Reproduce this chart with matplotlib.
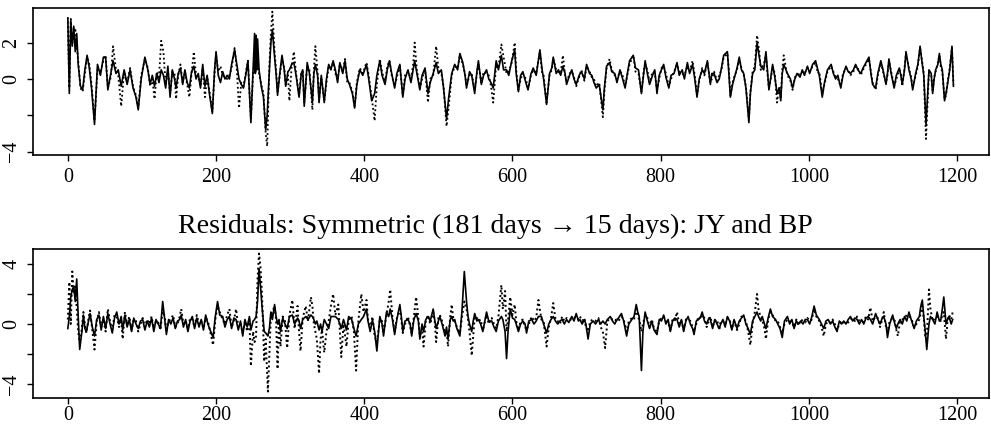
import matplotlib
matplotlib.use("Agg")
import matplotlib.pyplot as plt

plt.rcParams['font.family'] = ['Liberation Serif', 'DejaVu Serif']

# ---------------- top panel ----------------
top_day = [
    0, 2, 4, 6, 8, 10, 12, 14, 17, 20,
    23, 26, 29, 32, 36, 40, 44, 48, 51, 54,
    58, 61, 65, 68, 72, 76, 80, 84, 88, 92,
    95, 99, 104, 108, 111, 114, 117, 120, 123, 126,
    129, 132, 135, 138, 141, 144, 146, 149, 152, 155,
    158, 161, 164, 167, 170, 173, 176, 179, 182, 185,
    188, 191, 195, 198, 200, 203, 206, 209, 212, 215,
    218, 221, 225, 228, 231, 234, 237, 240, 243, 247,
    250, 252, 253, 254, 255, 256, 258, 261, 264, 267,
    269, 272, 274, 276, 279, 281, 283, 286, 289, 292,
    294, 297, 299, 302, 305, 308, 312, 315, 317, 319,
    323, 326, 330, 332, 334, 337, 339, 342, 346, 349,
    352, 355, 358, 361, 364, 367, 371, 374, 377, 380,
    384, 387, 390, 394, 398, 403, 406, 410, 414, 417,
    421, 424, 428, 431, 434, 437, 441, 444, 448, 452,
    455, 459, 463, 466, 468, 471, 475, 478, 482, 486,
    489, 493, 497, 500, 504, 507, 511, 514, 518, 522,
    526, 529, 533, 536, 538, 542, 545, 549, 552, 554,
    558, 561, 565, 568, 571, 574, 578, 581, 585, 588,
    592, 595, 599, 603, 605, 608, 611, 614, 618, 621,
    625, 628, 632, 637, 640, 642, 646, 650, 653, 655,
    659, 662, 665, 668, 671, 673, 677, 680, 683, 686,
    690, 693, 697, 700, 704, 707, 710, 713, 717, 722,
    724, 727, 731, 734, 738, 741, 745, 748, 752, 755,
    758, 763, 766, 770, 774, 777, 779, 782, 785, 789,
    792, 795, 798, 801, 804, 807, 811, 814, 818, 822,
    825, 829, 832, 836, 839, 843, 846, 849, 852, 856,
    859, 863, 867, 869, 872, 876, 879, 882, 885, 890,
    892, 894, 897, 899, 903, 906, 909, 912, 915, 919,
    921, 924, 927, 930, 933, 935, 939, 942, 944, 946,
    949, 951, 954, 957, 960, 962, 964, 966, 969, 971,
    975, 978, 981, 984, 988, 991, 994, 998, 1001, 1005,
    1009, 1012, 1014, 1018, 1021, 1025, 1030, 1033, 1036, 1039,
    1043, 1046, 1050, 1053, 1056, 1060, 1063, 1066, 1070, 1073,
    1077, 1081, 1084, 1086, 1090, 1093, 1097, 1100, 1104, 1106,
    1108, 1111, 1115, 1118, 1122, 1124, 1126, 1129, 1131, 1135,
    1138, 1140, 1144, 1147, 1150, 1153, 1155, 1158, 1160, 1162,
    1165, 1167, 1169, 1171, 1174, 1176, 1178, 1180, 1183, 1185,
    1187, 1190, 1193, 1195,
]
top_solid = [
    3.3, -0.8, 3.2, 1.8, 2.9, 1.5, 2.5, 0.8, -0.4, -0.6,
    0.5, 1.3, 0.6, -0.5, -2.5, 0.8, 0.2, 1.2, 1.2, -0.6,
    0.3, 1.0, 0.3, 0.5, -0.4, 0.5, -0.3, 0.5, -0.5, -1.0,
    -1.7, 0.0, 1.2, 0.5, -0.3, 0.2, -0.4, 0.3, -0.2, 0.5,
    0.2, -0.5, 0.7, -1.0, 0.5, 0.0, -0.5, 0.3, 0.6, -0.3,
    0.5, -0.2, -0.5, 0.4, 0.7, 0.0, 0.3, -0.5, 0.8, -0.4,
    0.2, -0.8, -1.9, 0.5, 1.5, 0.2, -0.2, 0.4, 0.0, 0.2,
    0.0, 0.8, 1.6, 0.8, 0.0, -0.3, -0.5, 0.2, 1.0, -2.4,
    0.5, 2.5, 0.3, 2.4, 0.5, 2.2, 0.5, -0.4, -1.0, -2.8,
    -2.0, 0.5, 2.0, 2.7, 1.2, 0.3, -0.9, 0.3, 1.3, 0.5,
    -0.4, 0.4, 0.5, 0.8, 0.9, 0.2, -1.0, 0.3, 0.5, -1.5,
    0.9, 0.3, -1.3, 0.3, 0.8, 0.2, -1.3, 0.2, -1.3, 0.0,
    0.8, 0.5, 1.0, 0.5, -0.2, 0.9, 0.3, 1.0, 0.0, -0.3,
    -0.8, -1.6, -0.3, 0.5, 0.2, 0.8, 0.0, -1.2, -0.8, 0.2,
    1.0, 0.2, -0.3, 0.5, 1.0, 0.3, -0.5, 0.3, 0.8, -1.0,
    0.0, 0.5, -0.2, 0.5, 1.0, 0.3, -0.6, 0.2, 0.6, -0.8,
    -0.2, 0.3, 0.9, 0.3, 0.5, -0.5, -2.2, -1.0, 0.3, 0.8,
    0.5, 1.4, 0.9, 0.2, -0.5, 0.4, 0.2, -0.8, 0.4, 1.0,
    -0.3, 0.2, 0.5, 0.0, -0.2, -0.5, 1.0, 0.5, 1.3, 0.5,
    0.5, 0.2, 1.0, 1.6, 0.3, -0.7, 0.2, 0.4, -0.2, -0.6,
    0.3, 0.6, 0.2, 1.6, 0.5, 0.0, -1.4, 0.3, 0.6, 1.2,
    0.3, 0.5, 0.2, 0.7, 0.3, -0.3, 0.2, 0.5, 0.0, -0.3,
    0.2, 0.4, 0.0, 0.8, 0.3, 0.2, -0.2, -0.5, -0.3, -1.7,
    -0.5, 0.7, 0.9, 0.4, 0.3, -0.2, 0.5, 0.1, -0.5, 0.3,
    1.0, 1.3, 0.6, 0.5, -0.8, 0.3, 1.0, 0.3, -0.3, 0.2,
    0.5, -0.8, 0.2, 0.5, 0.8, 0.1, -0.5, 0.2, 0.3, 0.9,
    0.2, 0.5, 0.0, 0.9, 0.3, 0.8, 0.0, -1.0, 0.0, 0.5,
    0.3, 1.0, -0.3, 0.3, 0.3, -0.2, 0.0, 0.6, 1.3, 1.5,
    0.3, -1.0, -0.3, 0.0, 0.6, 1.2, 0.5, 0.3, -0.5, -2.4,
    -0.8, 0.3, 0.5, 2.0, 1.2, 0.7, 0.5, 1.5, 0.5, -0.6,
    0.2, 0.8, 0.1, -0.8, -0.5, -1.2, 0.3, 0.8, 0.5, 0.3,
    0.0, -0.5, 0.0, 0.3, 0.1, 0.5, 0.2, 0.7, 0.3, 0.8,
    1.0, 0.5, 0.2, -1.0, -0.2, 0.5, 0.8, 0.3, 0.0, 0.2,
    -0.5, 0.2, 0.7, 0.4, 0.3, 0.5, 0.8, 0.5, 0.3, 0.6,
    0.9, 1.2, 0.2, -0.3, -0.5, 0.3, 1.0, 0.5, -0.3, 0.3,
    1.1, 0.3, -0.5, 0.2, 0.6, 0.2, -0.3, 0.5, 1.5, 0.5,
    0.0, -0.6, 0.3, 0.8, 1.8, 0.8, 0.2, -2.5, -1.0, 0.5,
    0.3, -0.8, 0.0, 0.5, 0.8, 1.4, 0.8, 0.5, -1.2, -0.8,
    -0.3, 0.5, 1.8, -0.4,
]
top_dotted = [
    3.4, -0.5, 3.3, 2.0, 2.6, 2.8, 1.8, 1.0, -0.5, -0.7,
    0.3, 1.2, 0.8, -0.3, -2.3, 0.5, 0.4, 1.0, 1.3, -0.5,
    0.1, 1.8, 0.5, 0.2, -1.5, 0.4, -0.2, 0.6, -0.4, -0.9,
    -1.6, 0.2, 1.1, 0.6, -0.4, 0.0, -1.1, 0.4, 0.1, 2.1,
    1.5, -0.3, 0.5, -0.8, 0.4, 0.3, -1.1, 0.2, 0.8, -0.2,
    0.4, -0.3, -1.0, 0.3, 1.5, 0.2, 0.1, -0.4, 0.6, -1.0,
    0.1, -0.6, -1.8, 0.3, 1.3, 0.4, 0.7, 0.2, 0.1, 0.0,
    0.2, 0.6, 1.7, 0.5, -1.6, -0.2, -0.4, 0.3, 1.0, -2.2,
    0.3, 1.0, 0.3, 0.8, 0.5, 1.3, 0.3, -0.3, -0.8, -3.0,
    -3.7, 0.8, 2.5, 3.7, 1.5, 0.5, -0.7, 0.2, 1.1, 0.6,
    -0.3, 0.2, -1.2, 0.7, 1.5, 0.3, -0.9, 0.4, 0.4, -1.3,
    0.7, 0.5, -1.7, 0.5, 1.8, 0.4, -1.1, 0.1, -1.2, -0.2,
    0.7, 0.6, 0.9, 0.3, 0.0, 0.8, 0.4, 1.1, -0.2, -0.2,
    -0.7, -1.5, -0.2, 0.6, 0.3, 0.9, 0.2, -1.0, -2.3, -0.3,
    1.1, 0.4, -0.2, 0.7, 1.0, 0.2, -0.4, 0.1, 0.7, -0.9,
    0.2, 0.4, 0.0, 0.8, 2.0, 0.5, -0.5, 0.0, 0.5, -1.3,
    0.0, 0.2, 1.8, 0.6, 0.3, -0.4, -2.6, -1.5, 0.2, 0.7,
    0.6, 1.3, 0.8, 0.3, -0.4, 0.2, 0.3, -0.6, 0.3, 0.8,
    -0.2, 0.4, 0.3, 0.2, -0.4, -1.3, 0.8, 0.6, 1.9, 1.2,
    0.3, 0.4, 0.9, 2.0, 0.5, -0.6, 0.0, 0.3, 0.0, -0.5,
    0.2, 0.5, 0.3, 1.5, 0.3, 0.2, -1.3, 0.2, 0.5, 1.1,
    0.5, 0.4, 0.3, 1.3, 0.2, -0.2, 0.3, 0.4, 0.1, -0.4,
    0.1, 0.5, -0.1, 0.7, 0.4, 0.1, 0.0, -0.4, -0.2, -2.1,
    -0.7, 0.6, 1.1, 0.5, 0.2, 0.0, 0.4, 0.3, -0.4, 0.2,
    0.8, 1.3, 0.4, 0.3, -0.7, 0.4, 0.8, 0.5, -0.2, 0.4,
    0.3, -0.6, 0.0, 0.6, 0.7, 0.3, -0.4, 0.0, 0.4, 0.8,
    0.4, 0.3, 0.2, 0.7, 0.4, 1.0, 0.2, -0.9, -0.1, 0.6,
    0.2, 0.9, -0.2, 0.0, 0.4, -0.1, 0.2, 0.5, 1.2, 1.4,
    0.5, -0.9, -0.2, 0.1, 0.5, 1.1, 0.6, 0.2, -0.4, -2.2,
    -0.7, 0.4, 0.7, 2.4, 1.5, 0.5, 0.8, 1.3, 0.3, -0.5,
    0.1, 0.7, 0.3, -1.3, -0.4, -1.1, 0.5, 1.3, 0.6, 0.2,
    -0.1, -0.6, 0.1, 0.2, 0.3, 0.4, 0.3, 0.6, 0.4, 0.7,
    0.9, 0.3, 0.4, -0.8, -0.3, 0.4, 0.7, 0.4, 0.1, 0.0,
    -0.4, 0.3, 0.6, 0.5, 0.2, 0.4, 0.7, 0.6, 0.2, 0.5,
    0.8, 1.1, 0.3, -0.2, -0.6, 0.2, 0.9, 0.4, -0.2, 0.2,
    1.0, 0.4, -0.4, 0.0, 0.5, 0.3, -0.4, 0.6, 1.4, 0.6,
    0.1, -0.5, 0.2, 0.7, 1.7, 0.9, 0.3, -3.3, -1.5, 0.4,
    0.2, -0.7, 0.1, 0.4, 0.9, 1.3, 0.6, 0.4, -1.1, -0.9,
    -0.2, 0.6, 1.7, -0.3,
]

# ---------------- bottom panel ----------------
bot_day = [
    0, 2, 4, 6, 8, 10, 12, 14, 16, 19,
    21, 23, 25, 28, 30, 33, 36, 39, 42, 45,
    48, 51, 54, 57, 60, 63, 66, 69, 72, 74,
    77, 80, 83, 86, 89, 92, 95, 98, 101, 104,
    107, 110, 113, 116, 119, 122, 125, 128, 131, 133,
    136, 139, 142, 145, 148, 151, 153, 156, 159, 162,
    165, 168, 171, 174, 177, 180, 183, 186, 189, 192,
    196, 199, 202, 205, 209, 212, 215, 218, 221, 224,
    227, 230, 233, 236, 239, 242, 245, 247, 250, 252,
    254, 256, 258, 260, 262, 265, 267, 270, 272, 274,
    276, 279, 281, 283, 285, 287, 290, 293, 296, 299,
    303, 306, 310, 312, 314, 317, 321, 324, 328, 330,
    332, 334, 336, 339, 341, 343, 346, 349, 352, 355,
    358, 361, 365, 367, 369, 372, 376, 379, 383, 386,
    389, 392, 396, 399, 403, 405, 408, 411, 414, 417,
    421, 424, 426, 430, 433, 435, 438, 441, 444, 448,
    450, 452, 455, 459, 462, 464, 467, 470, 473, 475,
    478, 480, 483, 486, 489, 493, 495, 497, 500, 502,
    505, 509, 511, 513, 516, 518, 520, 522, 525, 529,
    532, 535, 538, 540, 542, 545, 547, 549, 552, 554,
    557, 560, 563, 565, 568, 572, 575, 578, 581, 585,
    587, 590, 592, 594, 597, 600, 603, 605, 608, 611,
    614, 617, 619, 622, 626, 629, 632, 635, 639, 642,
    646, 649, 652, 655, 658, 661, 664, 667, 670, 673,
    676, 680, 683, 686, 689, 691, 694, 697, 699, 702,
    705, 709, 712, 716, 719, 722, 725, 728, 732, 735,
    738, 740, 743, 747, 750, 754, 757, 761, 764, 767,
    769, 771, 774, 776, 779, 782, 785, 788, 791, 795,
    798, 801, 804, 807, 810, 813, 816, 819, 822, 825,
    828, 831, 834, 837, 840, 843, 845, 848, 851, 854,
    856, 859, 862, 865, 867, 870, 873, 876, 879, 881,
    884, 887, 890, 893, 896, 899, 903, 906, 909, 912,
    915, 918, 921, 924, 927, 930, 932, 935, 937, 940,
    942, 945, 948, 951, 955, 958, 961, 964, 967, 971,
    974, 977, 980, 983, 986, 989, 992, 995, 998, 1001,
    1004, 1007, 1010, 1014, 1017, 1020, 1023, 1026, 1029, 1032,
    1035, 1038, 1041, 1044, 1047, 1050, 1053, 1056, 1059, 1062,
    1065, 1068, 1071, 1074, 1077, 1080, 1083, 1086, 1090, 1093,
    1096, 1099, 1101, 1104, 1106, 1109, 1113, 1116, 1118, 1120,
    1123, 1126, 1129, 1132, 1135, 1138, 1142, 1145, 1149, 1151,
    1153, 1155, 1157, 1159, 1162, 1164, 1167, 1170, 1173, 1176,
    1178, 1180, 1182, 1185, 1187, 1189, 1192, 1194,
]
bot_solid = [
    -0.3, 0.5, 1.8, 2.3, 2.5, 1.5, 3.0, 0.5, -1.7, -0.5,
    0.6, -0.3, -0.5, 0.2, 0.7, -0.2, -0.8, 0.3, 0.6, -0.4,
    0.5, -0.3, 0.7, 0.0, -0.6, 0.4, 0.8, 0.0, 0.5, -0.4,
    0.6, -0.2, 0.3, -0.5, 0.4, 0.0, -0.3, 0.2, 0.3, -0.4,
    0.2, -0.2, 0.4, -0.5, 0.3, 0.0, -0.3, 1.5, 0.2, -0.7,
    0.3, 0.0, 0.4, -0.3, 0.2, 0.3, 0.6, -0.2, 0.3, -0.5,
    0.2, 0.5, -0.3, 0.4, -0.2, 0.3, -0.4, 0.6, 0.0, -0.4,
    -0.9, 0.5, 1.5, 0.6, 0.5, -0.2, 0.3, 0.5, -0.3, 0.4,
    0.3, -0.4, 0.2, -0.8, 0.3, -0.2, 0.5, -0.4, 0.2, 0.3,
    0.5, 1.5, 3.7, 2.5, 1.2, -0.5, -0.6, -0.8, -0.3, 0.8,
    0.3, 1.3, 0.5, 0.0, 0.3, -0.5, 0.4, 0.0, -0.3, 0.5,
    0.6, 0.0, 0.4, 0.2, -0.3, 0.3, 0.5, 0.3, 0.6, 0.5,
    0.3, 0.0, 0.2, -0.4, 0.0, -0.5, 0.3, 0.0, -0.3, 0.5,
    0.5, 0.5, 0.3, 0.0, -0.3, 0.3, -0.4, 0.5, 0.3, -0.3,
    -0.8, 0.0, 0.3, 0.5, 1.0, 0.2, -0.5, 0.3, -0.5, -1.8,
    0.5, 0.0, -0.8, 0.8, 0.5, 1.0, 0.3, -0.7, 0.3, 1.3,
    0.5, -0.5, 0.2, 0.3, 0.0, -0.8, 0.3, 0.7, 0.2, -1.0,
    0.0, -0.5, 0.3, 0.5, 0.2, 1.0, 0.3, -0.3, 0.2, 0.5,
    0.0, -0.8, -0.2, -1.0, 0.3, 0.5, 0.2, 0.3, -0.3, -0.8,
    1.0, 3.5, 1.5, 0.5, 0.0, -0.5, 0.2, 0.7, 0.2, 0.3,
    0.0, -0.5, 0.3, 0.8, 0.2, 0.2, -0.2, -0.5, 0.2, 0.5,
    0.3, -0.5, -2.3, -0.5, 1.0, 0.4, 0.3, 0.0, -0.5, 0.0,
    0.2, 0.0, -0.6, 0.2, 0.3, 0.0, 0.2, 0.5, 0.5, 0.0,
    -0.6, 0.0, 0.3, 0.5, 0.2, 0.0, 0.2, 0.3, 0.0, 0.3,
    0.1, 0.5, 0.2, 0.7, 0.2, 0.3, 0.0, 0.3, 0.0, -1.0,
    0.0, 0.2, 0.0, 0.3, 0.0, 0.2, 0.0, 0.3, 0.5, 0.2,
    0.0, 0.2, 0.4, 0.7, 0.2, -0.8, 0.0, 0.3, 0.5, 1.3,
    0.8, 0.5, -3.1, -0.5, 0.8, 0.2, -0.3, 0.2, -0.4, -0.7,
    0.3, 0.2, 0.6, 0.0, 0.3, -0.5, 0.2, 0.4, 0.3, -0.2,
    0.3, -0.5, 0.2, 0.5, 0.0, -0.3, -0.7, 0.2, 0.3, 0.5,
    0.8, 0.2, 0.0, 0.4, 0.3, -0.3, 0.3, 0.0, -0.3, 0.0,
    0.3, -0.2, 0.5, 0.2, -0.4, 0.3, -0.3, 0.2, 0.4, 0.6,
    0.0, -0.3, -0.7, 0.2, 0.5, 0.8, 0.5, 0.2, 0.5, 0.0,
    -0.3, 0.4, 1.0, 0.5, 0.3, 0.0, -0.3, -0.9, 0.2, 0.5,
    0.0, 0.3, -0.3, 0.2, 0.0, 0.2, 0.0, 0.3, 0.3, 0.0,
    0.5, 1.2, 0.6, 0.3, 0.0, -0.3, 0.2, 0.3, 0.0, 0.2,
    -0.2, -0.5, 0.2, 0.0, 0.2, 0.0, 0.3, 0.5, 0.2, 0.4,
    0.3, 0.0, 0.3, 0.0, 0.4, 0.5, 0.3, 0.0, 0.7, 0.3,
    0.0, 0.4, 0.5, 0.0, -0.9, 0.0, 0.6, 0.0, -0.3, 0.0,
    0.3, 0.0, 0.5, 0.2, 0.8, 0.3, -0.3, 0.2, 0.5, 1.2,
    1.6, 0.5, -0.5, -1.7, 0.0, 0.5, 0.3, 0.0, 0.8, 0.2,
    0.3, 1.0, 1.8, 0.0, 0.3, 0.5, 0.0, 0.3,
]
bot_dotted = [
    0.3, 2.8, 0.0, 3.5, 2.0, 2.5, 1.0, -0.5, -1.2, -0.3,
    0.8, 0.0, -0.6, 0.4, 0.9, -0.4, -1.7, 0.2, 0.8, -0.2,
    0.3, -0.5, 1.0, 0.2, -0.4, 0.6, 0.5, -0.2, 0.3, -1.0,
    0.8, 0.0, 0.5, -0.4, 0.3, 0.2, -0.5, 0.0, 0.4, -0.2,
    0.3, 0.0, 0.5, -0.3, 0.2, 0.1, -0.4, 1.0, 0.4, -0.5,
    0.2, 0.3, 0.6, -0.2, 0.0, 0.5, 1.0, 0.0, 0.2, -0.3,
    0.4, 0.3, -0.2, 0.6, 0.0, 0.2, -0.3, 0.4, 0.2, -0.5,
    -1.4, 0.3, 1.2, 0.8, 0.3, 0.0, 0.6, 1.0, -0.2, 0.2,
    1.0, -0.2, 0.0, -0.6, 0.2, -0.5, 0.3, -2.8, -0.5, -1.2,
    -0.8, 3.0, 4.7, 3.8, 2.0, -2.5, -1.0, -4.5, -2.0, 0.6,
    0.8, 1.2, 0.3, -3.0, 0.2, -1.5, 0.5, 0.2, -1.6, 0.6,
    1.6, -0.3, 1.2, -0.5, -1.8, 0.4, 1.2, 0.2, 1.8, 1.2,
    0.0, -0.5, -1.0, -3.3, -1.0, -0.4, -1.9, -0.5, 0.2, 1.2,
    2.0, 0.6, 1.3, -0.5, -2.2, 0.0, -1.5, 0.3, 0.5, -0.5,
    -3.1, 0.2, 2.0, 0.8, 1.6, 0.3, -0.3, 0.5, -0.8, -1.2,
    0.3, 0.2, -0.6, 0.6, 1.5, 2.3, 0.5, -0.5, 0.4, 1.0,
    0.3, -0.6, 0.0, 0.5, -0.2, -0.6, 0.5, 1.8, 0.4, -0.8,
    -0.3, -1.5, 0.2, 0.6, 0.0, 0.8, 0.2, -1.2, 0.4, 0.6,
    0.2, -0.6, -0.4, -1.5, 0.5, 1.3, 0.4, 0.2, -0.2, -0.6,
    0.5, 1.5, 1.0, 0.3, -0.5, -2.1, -0.8, 0.5, 0.4, 0.2,
    0.3, -0.4, 0.2, 0.6, 0.0, 0.4, 0.0, -0.3, 0.5, 2.6,
    1.0, 2.2, -0.5, 0.3, 1.8, 0.6, 1.3, 0.2, -0.4, 0.2,
    0.3, -0.2, -0.4, 0.0, 0.5, 0.2, 0.4, 1.6, 0.3, 0.2,
    -1.5, -0.2, 0.4, 1.4, 0.3, 0.2, 0.0, 0.5, 0.2, 0.4,
    0.3, 0.3, 0.4, 0.5, 0.3, 0.5, 0.2, 0.4, -0.2, -0.5,
    0.2, 0.3, 0.2, 0.4, -0.2, -0.5, -1.6, 0.2, 0.4, 0.3,
    0.2, 0.3, 0.2, 0.5, 0.3, -0.5, 0.2, 0.4, 0.3, 1.0,
    0.5, 0.3, -0.5, 0.0, 0.6, 0.4, -0.2, 0.3, -0.3, -0.5,
    0.2, 0.4, 0.5, 0.2, 0.1, -0.4, 0.3, 0.2, 0.8, 0.0,
    0.2, -0.4, 0.3, 0.3, 0.2, -0.2, -0.5, 0.0, 0.5, 0.3,
    0.6, 0.4, -0.2, 0.2, 0.5, -0.2, 0.2, 0.3, -0.4, 0.2,
    0.2, 0.0, 0.4, 0.3, -0.3, 0.2, -0.4, 0.0, 0.5, 0.4,
    0.2, -0.5, -1.4, 0.0, 0.8, 2.0, 1.0, 0.4, 0.3, -0.3,
    -1.0, 0.3, 0.8, 0.6, 0.2, 0.2, -0.2, -0.6, 0.0, 0.3,
    0.2, 0.1, -0.2, 0.3, -0.1, 0.3, 0.2, 0.1, 0.4, 0.2,
    0.3, 1.0, 0.5, 0.2, -0.2, -0.8, 0.0, 0.2, 0.1, 0.3,
    0.0, -0.4, 0.0, 0.2, 0.1, 0.2, 0.1, 0.3, 0.4, 0.2,
    0.5, 0.2, 0.1, 0.2, 0.5, 0.3, 1.1, 0.2, 0.5, 0.4,
    -0.2, 0.3, 0.8, -0.2, -0.5, 0.2, 0.4, 0.2, -0.4, -0.8,
    0.2, 0.3, 0.4, 0.6, 0.5, 0.4, -0.2, 0.0, 0.3, 0.8,
    1.2, 0.3, -0.8, -1.0, 2.3, 1.0, 0.2, 0.4, 0.5, 0.4,
    0.2, 0.6, 0.8, -1.0, 0.2, 0.6, 0.3, 0.8,
]

x_ticks = [0, 200, 400, 600, 800, 1000, 1200]
top_yticks = [-4, -2, 0, 2]
top_ylabels = ['\u22124', '', '0', '2']
bot_yticks = [-4, -2, 0, 2, 4]
bot_ylabels = ['\u22124', '', '0', '', '4']
title_text = 'Residuals: Symmetric (181 days \u2192 15 days): JY and BP'

fig = plt.figure(figsize=(9.91, 4.29), dpi=100)
W, H = 991, 429
ax1 = fig.add_axes([33 / W, 1 - 155 / H, (989 - 33) / W, (155 - 8) / H])
ax2 = fig.add_axes([33 / W, 1 - 398 / H, (989 - 33) / W, (398 - 249) / H])


def style(ax, yt, yl, ylim, xpad):
    ax.set_xlim(-47, 1243)
    ax.set_ylim(*ylim)
    ax.set_xticks(x_ticks)
    ax.set_xticklabels([str(t) for t in x_ticks])
    ax.set_yticks(yt)
    ax.set_yticklabels(yl, rotation=90, va='center')
    ax.tick_params(direction='out', length=4, width=1.0, labelsize=14.5,
                   colors='black')
    ax.tick_params(axis='y', pad=4.5)
    ax.tick_params(axis='x', pad=xpad)
    for s in ax.spines.values():
        s.set_linewidth(1.2)
        s.set_color('black')


ax1.plot(top_day, top_dotted, color='black', lw=1.3, ls=(0, (1, 1.5)))
ax1.plot(top_day, top_solid, color='black', lw=1.2)
style(ax1, top_yticks, top_ylabels, (-4.18, 3.9), 5)

ax2.plot(bot_day, bot_dotted, color='black', lw=1.4, ls=(0, (1, 1.5)))
ax2.plot(bot_day, bot_solid, color='black', lw=1.2)
style(ax2, bot_yticks, bot_ylabels, (-4.93, 5.0), 1.5)

fig.text(495 / W, 1 - 233 / H, title_text, ha='center', va='baseline',
         fontsize=20.2, color='black')

fig.savefig('out.png', dpi=100)
